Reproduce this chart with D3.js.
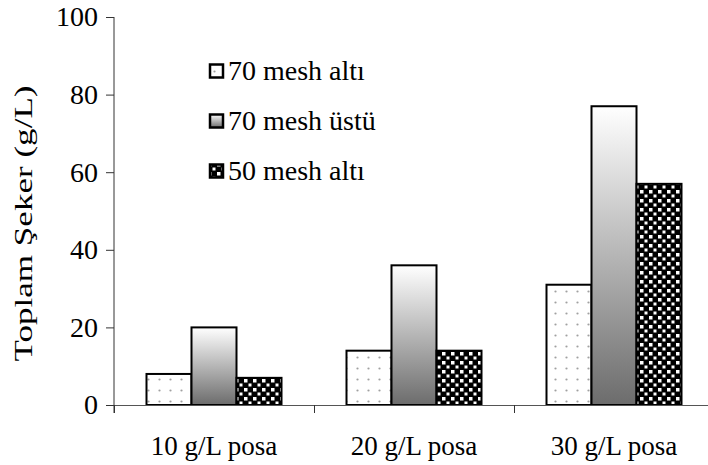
<!DOCTYPE html>
<html>
<head>
<meta charset="utf-8">
<script src="https://cdn.jsdelivr.net/npm/d3@7"></script>
<style>
  html, body { margin: 0; padding: 0; background: #fff; }
  svg { display: block; }
  svg text { font-family: "Liberation Serif", "Times New Roman", serif; fill: #000; }
</style>
</head>
<body>
<svg id="chart" width="708" height="465"></svg>
<script>
const categories = ["10 g/L posa", "20 g/L posa", "30 g/L posa"];
const seriesNames = ["70 mesh altı", "70 mesh üstü", "50 mesh altı"];
const seriesAlti70 = [8, 14, 31];
const seriesUstu70 = [20, 36, 77];
const seriesAlti50 = [7, 14, 57];
const yTicks = [0, 20, 40, 60, 80, 100];
const yTitle = "Toplam Şeker (g/L)";

const seriesValues = [seriesAlti70, seriesUstu70, seriesAlti50];
const fills = ["url(#dots)", "url(#grad)", "url(#checks)"];
const FONT = "Liberation Serif";

const svg = d3.select("#chart");
const defs = svg.append("defs");

// dotted pattern
const pd = defs.append("pattern").attr("id", "dots").attr("patternUnits", "userSpaceOnUse")
  .attr("width", 11).attr("height", 11);
pd.append("rect").attr("width", 11).attr("height", 11).attr("fill", "#fff");
pd.append("circle").attr("cx", 5.5).attr("cy", 5.5).attr("r", 1.1).attr("fill", "#a0a0a0");

// gradient
const lg = defs.append("linearGradient").attr("id", "grad")
  .attr("x1", 0).attr("y1", 0).attr("x2", 0).attr("y2", 1);
lg.append("stop").attr("offset", "0%").attr("stop-color", "#ffffff");
lg.append("stop").attr("offset", "100%").attr("stop-color", "#6c6c6c");

// checker pattern
const pc = defs.append("pattern").attr("id", "checks").attr("patternUnits", "userSpaceOnUse")
  .attr("width", 9).attr("height", 9);
pc.append("rect").attr("width", 9).attr("height", 9).attr("fill", "#000");
pc.append("rect").attr("x", 1).attr("y", 1).attr("width", 3.5).attr("height", 3.5).attr("fill", "#fff");
pc.append("rect").attr("x", 5.5).attr("y", 5.5).attr("width", 3).attr("height", 3).attr("fill", "#fff");

const x0 = d3.scaleBand().domain(categories).range([114, 714]).paddingInner(0.325).paddingOuter(0.1625);
const x1 = d3.scaleBand().domain(d3.range(seriesNames.length)).range([0, x0.bandwidth()]);
const y = d3.scaleLinear().domain([0, 100]).range([405, 17]);

// bars
categories.forEach((c, ci) => {
  seriesValues.forEach((vals, si) => {
    svg.append("rect")
      .attr("x", x0(c) + x1(si))
      .attr("y", y(vals[ci]))
      .attr("width", x1.bandwidth())
      .attr("height", y(0) - y(vals[ci]))
      .attr("fill", fills[si])
      .attr("stroke", "#000")
      .attr("stroke-width", 2);
  });
});

// y axis
const yAxis = svg.append("g").attr("transform", "translate(114,0)")
  .call(d3.axisLeft(y).tickValues(yTicks).tickSize(8).tickPadding(8));
yAxis.attr("font-family", FONT).attr("font-size", 28);
yAxis.select(".domain").attr("stroke", "#333").attr("d", `M0,${y(100)}V${y(0) + 8}`);
yAxis.selectAll(".tick line").attr("stroke", "#333");
yAxis.selectAll(".tick text").attr("fill", "#000");

// x axis
const step = x0.step();
const boundaries = categories.map(c => x0(c) - step * x0.paddingInner() / 2).concat([714]);
svg.append("line").attr("x1", 114).attr("x2", 714).attr("y1", y(0) + 0.5).attr("y2", y(0) + 0.5)
  .attr("stroke", "#555").attr("stroke-width", 1);
svg.selectAll(".xtick").data(boundaries).enter().append("line")
  .attr("x1", d => Math.round(d) + 0.5).attr("x2", d => Math.round(d) + 0.5)
  .attr("y1", y(0)).attr("y2", y(0) + 8)
  .attr("stroke", "#333");
svg.selectAll(".xlabel").data(categories).enter().append("text")
  .attr("x", d => x0(d) + x0.bandwidth() / 2)
  .attr("y", 455)
  .attr("text-anchor", "middle")
  .attr("font-family", FONT)
  .attr("font-size", 27)
  .text(d => d);

// y title
svg.append("text")
  .attr("transform", "translate(32,223.5) rotate(-90)")
  .attr("text-anchor", "middle")
  .attr("font-family", FONT)
  .attr("font-size", 25)
  .attr("textLength", 276)
  .attr("lengthAdjust", "spacingAndGlyphs")
  .style("fill", "#000")
  .text(yTitle);

// legend
const legY = [71, 121, 171];
seriesNames.forEach((n, i) => {
  svg.append("rect").attr("x", 210).attr("y", legY[i] - 6.5).attr("width", 13).attr("height", 13)
    .attr("fill", fills[i]).attr("stroke", "#000").attr("stroke-width", 2.5);
  svg.append("text").attr("x", 228).attr("y", legY[i] + 9)
    .attr("font-family", FONT).attr("font-size", 28).text(n);
});
</script>
</body>
</html>
